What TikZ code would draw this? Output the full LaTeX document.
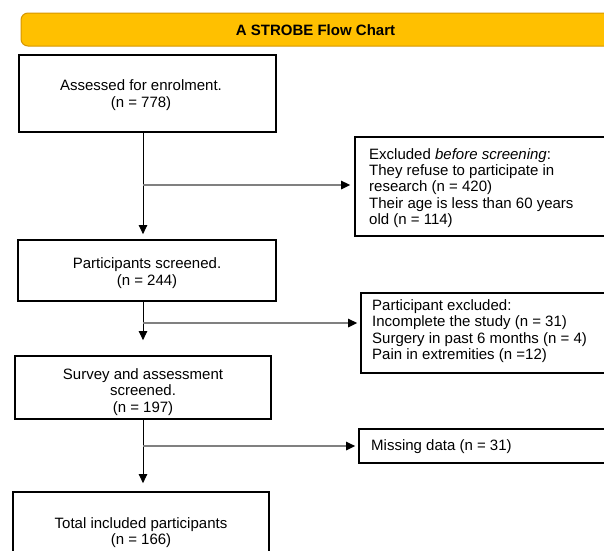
\documentclass[tikz,border=0pt]{standalone}
\usepackage{fontspec}
\setmainfont{Liberation Sans}
\usetikzlibrary{arrows.meta}
\definecolor{barfill}{RGB}{255,192,0}
\definecolor{barline}{RGB}{214,150,0}
\definecolor{branchgray}{RGB}{128,128,128}
\begin{document}
\begin{tikzpicture}[x=1pt,y=-1pt,
  boxstyle/.style={draw=black,line width=1.8pt,rectangle,inner sep=0pt},
  ctext/.style={inner sep=0pt,align=center,font=\fontsize{15}{16.5}\selectfont},
  ltext/.style={inner sep=0pt,align=left,font=\fontsize{15}{16.4}\selectfont},
  varr/.style={draw=black,line width=0.9pt,-{Triangle[length=9pt,width=8.5pt]}},
  harr/.style={draw=branchgray,line width=1.4pt,-{Triangle[length=9pt,width=8.5pt,color=black]}}
]
\useasboundingbox (0,0) rectangle (604,550);
% title bar
\node[draw=barline,fill=barfill,line width=1pt,rounded corners=7pt,minimum width=592pt,minimum height=33pt,inner sep=0pt] (title) at (317,29.5) {};
\node[inner sep=0pt,font=\bfseries\fontsize{15}{17}\selectfont] (titletext) at (315.5,30.5) {A STROBE Flow Chart};
% left boxes
\node[boxstyle,minimum width=257pt,minimum height=77pt] (b1) at (147.5,93.5) {};
\node[boxstyle,minimum width=258pt,minimum height=61pt] (b2) at (147,270.5) {};
\node[boxstyle,minimum width=256pt,minimum height=63pt] (b3) at (143,387.5) {};
\node[boxstyle,minimum width=256pt,minimum height=78pt] (b4) at (141,531) {};
\node[ctext] (t1) at (141,95) {Assessed for enrolment.\\(n = 778)};
\node[ctext] (t2) at (147,273) {Participants screened.\\(n = 244)};
\node[ctext] (t3) at (143,392) {Survey and assessment\\screened.\\(n = 197)};
\node[ctext] (t4) at (141,532.5) {Total included participants\\(n = 166)};
% right boxes
\node[boxstyle,minimum width=260pt,minimum height=99pt] (e1) at (485,186.5) {};
\node[boxstyle,minimum width=254pt,minimum height=80pt] (e2) at (488,333) {};
\node[boxstyle,minimum width=256pt,minimum height=34pt] (e3) at (487,446) {};
\node[ltext,anchor=north west] (u1) at (369,148) {Excluded \textit{before screening}:\\They refuse to participate in\\research (n = 420)\\Their age is less than 60 years\\old (n = 114)};
\node[ltext,anchor=north west] (u2) at (372,299.5) {Participant excluded:\\Incomplete the study (n = 31)\\Surgery in past 6 months (n = 4)\\Pain in extremities (n =12)};
\node[ltext,anchor=west] (u3) at (371,446.5) {Missing data (n = 31)};
% connectors
\coordinate (vx) at (143,0);
\draw[varr,shorten >=5pt] (b1.south -| vx) -- (b2.north -| vx);
\draw[varr,shorten >=15pt] (b2.south -| vx) -- (b3.north -| vx);
\draw[varr,shorten >=8pt] (b3.south -| vx) -- (b4.north -| vx);
\draw[harr,shorten >=4pt] ([yshift=1.5pt]e1.west -| vx) -- ([yshift=1.5pt]e1.west);
\draw[harr,shorten >=3pt] ([yshift=10pt]e2.west -| vx) -- ([yshift=10pt]e2.west);
\draw[harr,shorten >=3pt] (e3.west -| vx) -- (e3.west);
\end{tikzpicture}
\end{document}
